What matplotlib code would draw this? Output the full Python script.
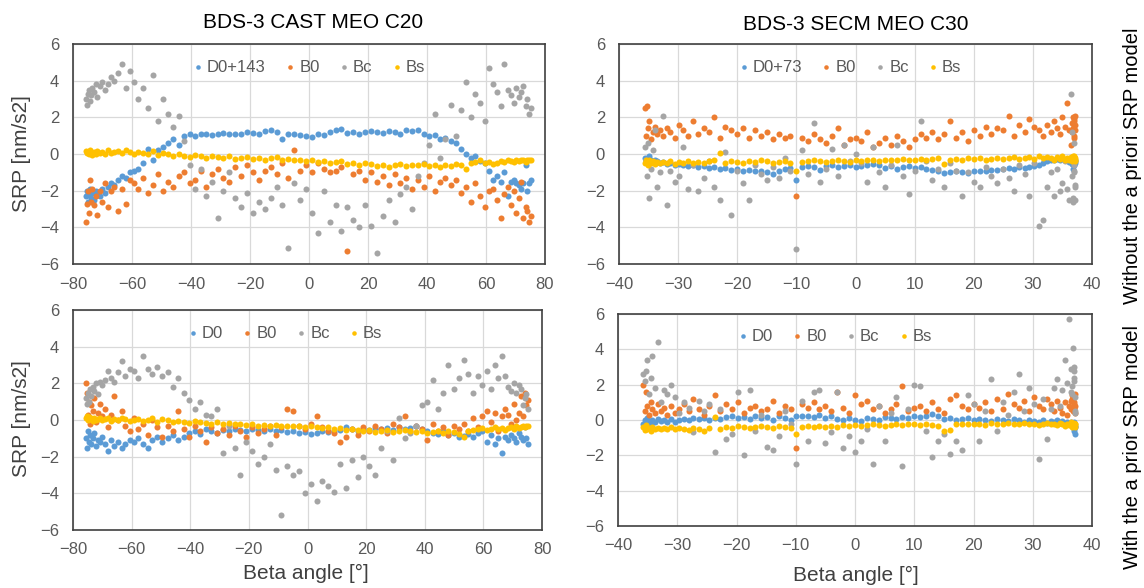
import matplotlib
matplotlib.use("Agg")
import matplotlib.pyplot as plt

plt.rcParams['font.family'] = ['Liberation Sans', 'DejaVu Sans']

# ---------------- Panel A: BDS-3 CAST MEO C20, without a priori SRP model
xA = [-75.6,-75.3,-75.0,-74.7,-74.3,-73.9,-73.4,-72.9,-72.3,-71.7,
      -71.0,-70.2,-69.3,-68.3,-67.2,-66.0,-64.8,-63.5,-62.2,-60.8,
      -59.3,-57.8,-56.2,-54.6,-53.0,-51.3,-49.6,-47.8,-46.0,-44.2,
      -42.4,-40.5,-38.6,-36.7,-34.8,-32.9,-31.0,-29.0,-27.0,-25.0,
      -23.0,-21.0,-19.0,-17.0,-15.0,-13.0,-11.0,-9.0,-7.0,-5.0,
      -3.0,-1.0,1.0,3.0,5.0,7.0,9.0,11.0,13.0,15.0,
      17.0,19.0,21.0,23.0,25.0,27.0,29.0,31.0,33.0,35.0,
      37.0,38.9,40.8,42.6,44.4,46.2,48.0,49.8,51.5,53.2,
      54.8,56.4,58.0,59.5,61.0,62.4,63.7,65.0,66.2,67.3,
      68.4,69.4,70.3,71.2,72.0,72.7,73.4,74.0,74.6,75.2]
A_D0 = [-2.3,-2.0,-2.6,-2.2,-1.9,-2.4,-2.1,-2.5,-2.0,-2.2,
        -2.3,-1.9,-2.1,-1.8,-1.6,-1.7,-1.4,-1.2,-1.3,-1.0,
        -0.9,-0.8,-0.5,0.3,-0.3,0.2,0.4,0.6,0.8,0.5,
        1.0,1.1,1.0,1.1,1.1,1.05,1.1,1.15,1.1,1.1,
        1.1,1.2,1.15,1.1,1.25,1.3,1.2,0.8,1.1,1.1,
        1.05,1.0,0.95,1.1,1.05,1.2,1.3,1.35,1.15,1.2,
        1.1,1.2,1.25,1.2,1.15,1.25,1.2,1.1,1.3,1.25,
        1.3,1.1,1.0,1.05,0.8,0.9,0.7,0.6,0.3,0.0,
        -0.2,-0.1,-0.4,-0.5,-0.9,-1.4,-1.2,-1.5,-1.0,-2.3,
        -1.5,-1.4,-1.6,-1.7,-1.9,-1.6,-0.6,-2.0,-1.6,-1.4]
A_B0 = [-3.7,-2.7,-2.0,-3.2,-1.4,-2.6,-1.9,-2.8,-2.3,-3.3,
        -2.0,-2.6,-1.6,-2.9,-2.0,-1.8,-3.1,-1.9,-2.7,-1.4,
        -1.6,-1.9,-1.3,-2.1,-1.7,-1.1,-2.0,-1.5,-1.8,-1.2,
        -1.0,-1.6,-1.4,-0.9,-1.8,-1.1,-0.8,-1.3,-1.5,-0.7,
        -1.2,-0.6,-1.0,-1.4,-0.9,-0.7,-1.1,-0.5,-1.3,0.2,
        -0.9,-0.6,-1.0,-0.5,-0.8,-1.0,-0.9,-0.7,-5.3,-1.1,
        -0.9,-1.4,-1.0,-1.5,-1.2,-1.7,-1.1,-1.6,-1.3,-1.9,
        -1.4,-1.8,-1.2,-2.0,-1.5,-1.3,-1.7,-1.4,-2.1,-1.8,
        -2.6,-1.6,-2.3,-2.9,-2.0,-1.9,-2.5,-3.5,-2.2,-1.8,
        -2.8,-2.0,-3.2,-2.4,-1.5,-3.5,-2.9,-3.1,-3.7,-3.4]
A_Bc = [3.0,2.7,3.3,3.5,2.9,3.2,3.6,3.4,3.8,3.1,
        3.7,3.9,3.5,3.8,4.2,4.0,4.4,4.9,3.6,4.5,
        3.9,3.0,3.6,2.5,4.3,1.8,3.0,2.2,1.5,2.1,
        0.7,-0.6,-1.9,-0.8,-2.3,-1.5,-3.5,-2.0,-1.0,-2.4,
        -2.9,-2.1,-3.2,-2.6,-3.0,-2.4,-1.8,-2.8,-5.1,-1.6,
        -2.5,-1.9,-3.2,-4.3,-2.0,-3.7,-2.8,-4.2,-2.9,-3.6,
        -4.0,-2.8,-3.9,-5.4,-3.4,-2.5,-3.7,-2.2,-1.8,-3.0,
        -1.2,-0.5,0.5,2.2,-0.2,0.8,2.7,1.0,2.4,3.9,
        2.0,3.3,2.8,1.8,4.7,3.8,3.4,2.6,4.9,3.5,
        3.2,2.8,3.6,3.1,3.4,3.7,2.6,3.0,2.2,2.5]
A_Bs = [0.15,0.05,0.1,0.0,0.2,0.05,-0.05,0.1,0.0,0.15,
        0.05,0.1,0.0,0.2,0.05,0.1,0.15,0.05,0.2,0.1,
        0.0,0.1,0.05,0.0,0.15,-0.05,0.05,0.0,-0.1,0.0,
        -0.1,-0.15,-0.05,-0.1,-0.2,-0.1,-0.15,-0.2,-0.1,-0.25,
        -0.2,-0.15,-0.25,-0.2,-0.3,-0.2,-0.15,-0.3,-0.25,-0.3,
        -0.35,-0.4,-0.3,-0.45,-0.4,-0.5,-0.45,-0.4,-0.55,-0.5,
        -0.6,-0.5,-0.55,-0.65,-0.6,-0.7,-0.6,-0.55,-0.65,-0.6,
        -0.6,-0.55,-0.65,-0.6,-0.7,-0.6,-0.65,-0.55,-0.6,-0.8,
        -0.5,-0.45,-0.3,-0.5,-0.45,-0.55,-0.5,-0.4,-0.45,-0.35,
        -0.4,-0.45,-0.35,-0.4,-0.3,-0.35,-0.45,-0.3,-0.35,-0.3]

# ---------------- Panel B: BDS-3 SECM MEO C30, without a priori SRP model
xB = [-35.6,-35.5,-35.3,-35.1,-34.9,-34.6,-34.3,-33.9,-33.5,-33.0,
      -32.5,-31.9,-31.3,-30.6,-29.9,-29.1,-28.3,-27.5,-26.6,-25.7,
      -24.8,-23.9,-23.0,-22.0,-21.0,-20.0,-19.0,-18.0,-17.0,-16.0,
      -15.0,-14.0,-13.0,-12.0,-11.0,-10.0,-9.0,-8.0,-7.0,-6.0,
      -5.0,-4.0,-3.0,-2.0,-1.0,0.0,1.0,2.0,3.0,4.0,
      5.0,6.0,7.0,8.0,9.0,10.0,11.0,12.0,13.0,14.0,
      15.0,16.0,17.0,18.0,19.0,20.0,21.0,22.0,23.0,24.0,
      25.0,25.9,26.8,27.7,28.6,29.4,30.2,31.0,31.7,32.4,
      33.0,33.6,34.1,34.6,35.0,35.4,35.8,36.1,36.4,36.6,
      36.8,36.9,37.0,37.1,37.2,36.9,36.7,37.0,37.1,36.8]
B_D0 = [-0.2,-0.4,-0.3,-0.5,-0.1,-0.35,-0.45,-0.3,-0.4,-0.5,
        -0.45,-0.55,-0.5,-0.6,-0.55,-0.6,-0.65,-0.6,-0.7,-0.65,
        -0.75,-0.7,-0.8,-0.75,-0.85,-0.8,-0.9,-0.85,-0.95,-0.9,
        -1.0,-1.1,-0.9,-0.8,-0.75,-1.4,-0.7,-0.65,-0.7,-0.85,
        -0.65,-0.6,-0.7,-0.65,-0.6,-0.7,-0.65,-0.6,-0.55,-0.6,
        -0.75,-0.65,-0.8,-0.7,-0.65,-0.75,-0.7,-0.8,-0.85,-0.95,
        -1.05,-1.0,-0.95,-1.0,-1.05,-0.95,-0.9,-0.9,-0.85,-0.85,
        -0.8,-0.75,-0.8,-0.7,-0.75,-0.7,-0.65,-0.6,-0.5,-0.4,
        -0.35,-0.3,-0.25,-0.3,-0.2,-0.35,-0.3,-0.45,-0.25,-0.5,
        -0.4,-0.6,-0.3,-0.5,-0.35,-0.45,-0.55,-0.25,-0.4,-0.8]
B_B0 = [2.5,1.0,2.6,1.4,1.8,0.8,1.2,1.5,1.1,1.3,
        1.0,1.4,1.2,0.9,1.6,1.3,1.0,1.8,1.1,1.4,
        1.2,2.0,0.9,1.5,1.3,1.1,1.4,0.9,1.3,1.0,
        1.2,0.8,1.1,0.9,1.0,-2.3,0.9,0.7,1.1,0.8,
        0.6,1.0,1.4,0.5,0.8,0.9,0.7,1.2,0.4,0.6,
        0.9,0.5,1.0,0.7,0.4,0.8,1.1,0.9,1.2,0.8,
        1.1,1.8,0.9,1.2,0.7,1.3,1.0,1.5,1.1,1.4,
        1.3,2.1,1.0,1.6,1.2,1.9,1.5,1.3,1.0,1.6,
        1.2,1.8,1.4,1.1,2.0,1.5,2.8,1.3,0.5,1.7,
        1.4,1.9,1.0,2.1,1.6,0.9,1.2,1.8,1.3,2.0]
B_Bc = [0.4,-0.3,-1.2,0.6,-2.4,-0.8,0.2,1.3,-1.8,-1.0,
        2.1,-2.8,-0.9,-1.5,-1.2,0.4,-1.9,-0.6,-2.0,-1.3,
        -0.4,-1.8,-2.5,0.1,-3.3,-0.9,-1.6,-2.5,-0.6,-1.1,
        -1.4,-0.7,-1.3,-0.2,-0.9,-5.2,0.2,-1.1,1.7,-1.5,
        -0.8,0.3,-1.2,0.5,-0.4,0.0,-0.5,-1.5,0.4,-1.0,
        -1.8,-0.6,0.5,-1.2,-2.2,-0.9,1.8,-0.4,-1.4,-0.8,
        -1.8,-0.5,-0.9,-2.3,-1.0,-1.5,-1.8,-0.7,-1.2,-1.6,
        -0.8,-1.3,-2.0,-0.6,-1.1,-2.3,-0.5,-3.9,-3.6,-1.8,
        -1.0,-2.3,-0.8,-2.0,-1.6,-0.4,-1.9,-2.5,3.3,-1.2,
        -2.6,-0.6,0.6,-1.8,-2.5,-1.0,1.2,-0.9,-1.7,-2.4]
B_Bs = [-0.5,-0.3,-0.45,-0.6,-0.35,-0.5,-0.4,-0.55,-0.45,-0.5,
        -0.45,-0.5,-0.4,-0.55,-0.45,-0.5,-0.4,-0.5,-0.45,-0.5,
        -0.4,-0.3,0.05,-0.5,-0.4,-0.45,-0.5,-0.4,-0.45,-0.35,
        -0.4,-0.5,-0.45,-0.4,-0.5,-0.9,-0.45,-0.4,-0.35,-0.4,
        -0.45,-0.4,-0.35,-0.4,-0.45,-0.35,-0.4,-0.3,-0.35,-0.4,
        -0.35,-0.3,-0.35,-0.25,-0.3,-0.3,-0.25,-0.3,-0.25,-0.2,
        -0.55,-0.3,-0.25,-0.3,-0.2,-0.25,-0.2,-0.3,-0.25,-0.2,
        -0.25,-0.2,-0.15,-0.25,-0.2,-0.15,-0.25,-0.1,-0.2,-0.15,
        -0.2,-0.3,-0.15,-0.25,-0.1,-0.3,-0.2,-0.35,-0.15,-0.4,
        -0.25,-0.1,-0.3,-0.2,-0.4,-0.15,-0.35,-0.2,-0.3,-0.1]

# ---------------- Panel C: BDS-3 CAST MEO C20, with a priori SRP model
xC = [-75.5,-75.2,-74.9,-74.6,-74.2,-73.8,-73.3,-72.8,-72.2,-71.6,
      -70.9,-70.1,-69.2,-68.2,-67.1,-65.9,-64.7,-63.4,-62.1,-60.7,
      -59.2,-57.7,-56.1,-54.5,-52.9,-51.2,-49.5,-47.7,-45.9,-44.1,
      -42.3,-40.4,-38.5,-36.6,-34.7,-32.8,-30.9,-28.9,-26.9,-24.9,
      -22.9,-20.9,-18.9,-16.9,-14.9,-12.9,-10.9,-8.9,-6.9,-4.9,
      -2.9,-0.9,1.1,3.1,5.1,7.1,9.1,11.1,13.1,15.1,
      17.1,19.1,21.1,23.1,25.1,27.1,29.1,31.1,33.1,35.1,
      37.1,39.0,40.9,42.7,44.5,46.3,48.1,49.9,51.6,53.3,
      54.9,56.5,58.1,59.6,61.1,62.5,63.8,65.1,66.3,67.4,
      68.5,69.5,70.4,71.3,72.1,72.8,73.5,74.1,74.7,75.3]
C_D0 = [-1.0,-1.5,-0.6,-1.2,-0.8,-1.3,-1.0,-0.7,-1.4,-1.1,
        -1.2,-0.9,-1.3,-1.7,-1.1,-1.4,-1.2,-1.5,-1.3,-1.1,
        -1.2,-1.0,-1.3,-1.5,-1.1,-0.9,-1.2,-1.0,-0.8,-1.1,
        -0.9,-0.7,-0.6,-0.75,-0.5,-0.6,-0.7,-0.55,-0.6,-0.5,
        -0.55,-0.6,-0.5,-0.55,-0.6,-0.5,-0.6,-0.55,-0.65,-0.6,
        -0.7,-0.65,-0.75,-0.7,-0.6,-0.65,-0.6,-0.55,-0.4,-0.5,
        -0.6,-0.5,-0.55,-0.45,-0.5,-0.45,-0.55,-0.4,-0.5,-0.45,
        -0.35,-0.5,-0.6,-0.7,-0.75,-0.6,-0.8,-0.7,-0.9,-0.85,
        -0.75,-0.95,-0.7,-0.6,-1.2,-0.8,-1.3,-1.0,-1.8,-0.9,
        -1.1,-0.8,-1.0,-1.2,-0.7,-0.9,-1.1,-0.4,-1.0,-1.3]
C_B0 = [2.0,1.5,0.3,1.0,-0.2,0.8,0.5,1.2,-0.1,0.4,
        0.9,0.2,0.6,-0.4,0.3,1.3,0.0,0.5,-0.3,-0.6,
        0.1,-0.5,-0.2,-0.8,0.0,-0.4,-0.9,-0.3,-0.6,0.5,
        -0.5,-0.9,-0.3,-0.6,-1.2,-0.4,-0.7,-0.5,-0.8,-0.3,
        -0.6,-0.9,-0.4,-0.7,-0.5,-0.3,-0.8,-0.4,0.6,0.5,
        -0.3,-0.5,-0.2,0.2,-0.4,-0.6,-0.7,-1.2,-0.9,-0.5,
        -0.8,-0.4,-0.6,-0.3,-0.5,-0.7,-0.2,-0.4,0.2,-0.6,
        -0.3,-0.5,-1.1,-0.2,-0.6,-0.4,-0.8,-0.3,-0.5,-0.2,
        -0.6,0.1,-0.4,0.2,0.5,-0.1,0.4,-0.6,0.2,0.6,
        0.3,-0.2,0.9,0.0,0.4,1.3,0.2,1.5,0.8,1.1]
C_Bc = [1.2,0.9,1.5,1.0,1.7,1.3,1.8,1.6,2.0,1.4,
        2.1,1.9,2.2,2.7,2.3,2.1,2.6,3.2,2.4,2.8,
        2.7,2.3,3.5,2.8,2.5,2.9,2.4,2.6,1.8,2.3,
        1.5,1.1,0.6,1.0,0.3,0.2,0.6,-1.8,-0.3,-1.5,
        -3.0,-1.2,-1.7,-2.4,-2.0,-1.3,-2.7,-5.2,-2.5,-3.0,
        -2.8,-4.0,-3.5,-4.4,-3.3,-3.6,-3.9,-2.4,-3.7,-2.2,
        -3.1,-2.0,-2.5,-3.0,-1.5,-0.6,-2.2,0.1,-1.0,-0.7,
        -0.3,0.8,1.0,2.2,0.6,1.5,3.0,1.7,2.3,3.3,
        2.5,1.5,2.4,1.9,2.7,1.7,3.0,2.3,3.5,2.4,
        1.8,1.6,2.0,1.5,1.9,1.7,0.8,1.2,1.4,0.6]
C_Bs = [0.1,0.2,0.0,0.15,0.05,0.1,-0.05,0.1,0.0,0.05,
        0.1,0.0,0.05,0.1,-0.05,0.05,0.0,0.1,0.05,-0.05,
        0.0,0.05,-0.05,0.0,0.1,-0.1,0.05,0.0,-0.1,-0.05,
        -0.1,-0.15,-0.05,-0.1,-0.15,-0.2,-0.1,-0.2,-0.15,-0.2,
        -0.2,-0.25,-0.2,-0.3,-0.25,-0.3,-0.25,-0.3,-0.35,-0.3,
        -0.35,-0.4,-0.35,-0.4,-0.45,-0.4,-0.5,-0.45,-0.55,-0.5,
        -0.55,-0.6,-0.55,-0.65,-0.6,-0.55,-0.65,-0.6,-0.55,-0.6,
        -0.65,-0.6,-0.7,-0.65,-0.6,-0.7,-0.6,-0.65,-0.75,-0.9,
        -0.6,-0.55,-0.5,-0.45,-0.55,-0.5,-0.4,-0.5,-0.45,-0.55,
        -0.45,-0.4,-0.5,-0.35,-0.45,-0.4,-0.3,-0.4,-0.35,-0.3]

# ---------------- Panel D: BDS-3 SECM MEO C30, with a priori SRP model
xD = [-35.7,-35.5,-35.3,-35.1,-34.8,-34.5,-34.2,-33.8,-33.3,-32.8,
      -32.3,-31.7,-31.1,-30.4,-29.7,-28.9,-28.1,-27.3,-26.4,-25.5,
      -24.6,-23.7,-22.8,-21.8,-20.8,-19.8,-18.8,-17.8,-16.8,-15.8,
      -14.8,-13.8,-12.8,-11.8,-10.8,-10.0,-9.0,-8.0,-7.0,-6.0,
      -5.0,-4.0,-3.0,-2.0,-1.0,0.0,1.0,2.0,3.0,4.0,
      5.0,6.0,7.0,8.0,9.0,10.0,11.0,12.0,13.0,14.0,
      15.0,16.0,17.0,18.0,19.0,20.0,21.0,22.0,23.0,24.0,
      25.0,25.9,26.8,27.7,28.6,29.4,30.2,31.0,31.7,32.4,
      33.0,33.6,34.1,34.6,35.0,35.4,35.8,36.1,36.4,36.6,
      36.8,36.9,37.0,37.1,37.2,36.9,36.7,37.0,37.1,36.5]
D_D0 = [-0.2,0.0,-0.3,0.1,-0.1,-0.2,0.0,-0.1,0.05,-0.05,
        0.0,-0.1,0.05,-0.1,0.0,0.05,0.0,0.1,0.05,0.1,
        0.0,0.1,0.05,0.15,0.2,0.1,0.15,0.05,0.2,0.1,
        0.15,0.0,0.2,0.1,0.0,0.2,0.25,0.2,0.15,0.3,
        0.1,0.2,0.05,0.0,0.1,0.0,-0.05,0.1,0.05,0.0,
        0.15,0.1,0.05,0.15,0.1,0.2,0.15,0.25,0.35,0.2,
        0.05,0.1,0.0,0.05,0.1,0.0,0.05,0.0,-0.05,0.05,
        0.0,-0.05,0.05,0.0,-0.1,0.0,-0.05,-0.1,0.0,-0.15,
        -0.05,-0.1,0.0,-0.15,-0.05,-0.2,-0.1,-0.25,-0.1,-0.3,
        -0.2,-0.6,-0.1,-0.4,-0.8,-0.3,-0.15,-0.5,-0.35,-0.2]
D_B0 = [2.0,0.5,1.6,0.8,0.3,1.0,0.6,0.4,0.9,0.5,
        0.7,0.3,0.8,0.4,0.6,0.9,0.5,1.2,0.6,0.3,
        0.8,1.4,0.5,0.9,0.6,1.0,0.4,0.7,0.8,0.5,
        0.6,1.1,0.4,0.8,0.6,-1.6,0.9,0.7,1.0,0.6,
        0.8,0.5,1.6,0.7,0.4,1.4,0.9,1.1,0.6,0.8,
        0.4,0.6,0.9,1.9,0.5,0.7,0.8,0.5,1.0,0.6,
        0.4,1.2,1.4,0.8,0.6,0.9,0.7,1.0,0.5,1.2,
        0.6,1.5,0.9,0.7,1.1,0.5,1.3,0.8,0.6,1.2,
        0.9,0.5,1.1,0.7,0.4,1.0,0.3,0.8,0.6,1.4,
        0.5,1.0,0.7,1.5,0.4,0.9,1.2,0.6,0.8,1.1]
D_Bc = [2.6,2.2,2.8,3.4,1.5,2.4,3.6,1.8,4.4,1.0,
        1.7,1.5,2.0,1.3,0.4,1.0,0.7,-0.7,1.1,0.5,
        0.9,-1.8,0.6,-1.1,-0.8,1.6,-2.0,1.7,-0.6,0.3,
        -1.5,-1.7,-0.9,0.5,-0.2,-2.5,1.1,-1.2,1.6,1.7,
        -1.3,-0.7,1.6,-1.6,-0.9,-1.8,-1.2,-0.5,-2.5,0.8,
        -1.2,0.4,1.3,-2.6,0.6,2.0,1.9,-0.6,-2.1,-1.2,
        -0.8,-1.9,-1.2,-1.7,1.4,0.9,-1.2,0.5,2.3,-0.6,
        1.0,0.3,1.6,2.6,0.5,1.8,0.9,-2.2,1.2,-1.1,
        0.6,1.8,2.3,0.8,1.7,3.4,2.1,5.7,2.9,1.5,
        4.1,2.4,3.0,1.3,0.5,2.2,1.9,2.8,0.4,1.6]
D_Bs = [-0.4,-0.55,-0.3,-0.5,-0.45,-0.6,-0.4,-0.5,-0.45,-0.5,
        -0.45,-0.5,-0.4,-0.5,-0.45,-0.5,-0.55,-0.45,-0.5,-0.6,
        -0.45,0.15,-0.5,-0.4,-0.45,-0.35,-0.4,-0.45,-0.4,-0.35,
        -0.4,-0.45,-0.35,-0.4,-0.45,-0.8,-0.4,-0.35,-0.4,-0.35,
        -0.4,-0.35,-0.4,-0.3,-0.35,-0.3,-0.35,-0.3,-0.25,-0.3,
        -0.35,-0.3,-0.25,-0.3,-0.2,-0.25,-0.3,-0.25,-0.3,-0.35,
        -0.6,-0.55,-0.2,-0.25,-0.2,-0.25,-0.2,-0.3,-0.15,-0.2,
        -0.25,-0.15,-0.2,-0.25,-0.15,-0.2,-0.25,-0.3,-0.2,-0.15,
        -0.25,-0.2,-0.3,-0.15,-0.25,-0.35,-0.2,-0.3,-0.1,-0.4,
        -0.25,-0.15,-0.35,-0.2,-0.4,-0.3,-0.15,-0.35,-0.25,-0.2]

titles = ["BDS-3 CAST MEO C20", "BDS-3 SECM MEO C30"]
row_labels = ["Without the a priori SRP model", "With the a prior SRP model"]
y_ticks = [-6, -4, -2, 0, 2, 4, 6]
x_ticks_wide = [-80, -60, -40, -20, 0, 20, 40, 60, 80]
x_ticks_narrow = [-40, -30, -20, -10, 0, 10, 20, 30, 40]
colors = ["#5B9BD5", "#ED7D31", "#A5A5A5", "#FFC000"]

# box = (left, right, top, bottom) in pixels; leg_x = legend centre in pixels
panels = [
    dict(x=xA, ys=[A_D0, A_B0, A_Bc, A_Bs], names=["D0+143", "B0", "Bc", "Bs"],
         xt=x_ticks_wide, box=(73, 545, 44, 264), leg_x=309),
    dict(x=xB, ys=[B_D0, B_B0, B_Bc, B_Bs], names=["D0+73", "B0", "Bc", "Bs"],
         xt=x_ticks_narrow, box=(619, 1092, 44, 264), leg_x=850),
    dict(x=xC, ys=[C_D0, C_B0, C_Bc, C_Bs], names=["D0", "B0", "Bc", "Bs"],
         xt=x_ticks_wide, box=(73, 542, 310, 530), leg_x=285),
    dict(x=xD, ys=[D_D0, D_B0, D_Bc, D_Bs], names=["D0", "B0", "Bc", "Bs"],
         xt=x_ticks_narrow, box=(618, 1092, 314, 526), leg_x=835),
]

W, H = 1144, 588
fig = plt.figure(figsize=(W / 100, H / 100), dpi=100)
fig.patch.set_facecolor("white")

tick_color = "#595959"
for p in panels:
    l, r, t, b = p["box"]
    ax = fig.add_axes([l / W, 1 - b / H, (r - l) / W, (b - t) / H])
    for y, c, name in zip(p["ys"], colors, p["names"]):
        ax.scatter(p["x"], y, s=19, color=c, linewidths=0, label=name, zorder=3)
    ax.set_xlim(p["xt"][0], p["xt"][-1])
    ax.set_ylim(-6, 6)
    ax.set_xticks(p["xt"])
    ax.set_yticks(y_ticks)
    ax.grid(True, color="#D9D9D9", linewidth=0.9, zorder=0)
    ax.set_axisbelow(True)
    ax.tick_params(axis="x", length=0, labelsize=12, labelcolor=tick_color, pad=9)
    ax.tick_params(axis="y", length=0, labelsize=12, labelcolor=tick_color, pad=10)
    for s in ax.spines.values():
        s.set_color("#404040")
        s.set_linewidth(1.2)
    lx = (p["leg_x"] - l) / (r - l)
    leg = ax.legend(ncol=4, loc="center", bbox_to_anchor=(lx, 0.895),
                    frameon=False, fontsize=12, handlelength=0.6,
                    handletextpad=0.25, columnspacing=1.15, markerscale=0.75,
                    scatterpoints=1, borderpad=0.0, borderaxespad=0.0)
    for txt in leg.get_texts():
        txt.set_color(tick_color)

# titles
fig.text(313 / W, 1 - 22 / H, titles[0], ha="center", va="center", fontsize=15, color="#000000")
fig.text(856 / W, 1 - 24 / H, titles[1], ha="center", va="center", fontsize=15, color="#000000")

# y labels
fig.text(22 / W, 1 - 154 / H, "SRP [nm/s2]", rotation=90, ha="center", va="center",
         fontsize=15, color="#404040")
fig.text(22 / W, 1 - 419 / H, "SRP [nm/s2]", rotation=90, ha="center", va="center",
         fontsize=15, color="#404040")

# x labels
fig.text(306 / W, 1 - 573 / H, "Beta angle [°]", ha="center", va="center",
         fontsize=15, color="#404040")
fig.text(856 / W, 1 - 575 / H, "Beta angle [°]", ha="center", va="center",
         fontsize=15, color="#404040")

# row labels on the right
fig.text(1132 / W, 1 - 166 / H, row_labels[0], rotation=90, ha="center", va="center",
         fontsize=14.5, color="#000000")
fig.text(1132 / W, 1 - 447 / H, row_labels[1], rotation=90, ha="center", va="center",
         fontsize=14.5, color="#000000")

fig.savefig("out.png", dpi=100, facecolor="white")
